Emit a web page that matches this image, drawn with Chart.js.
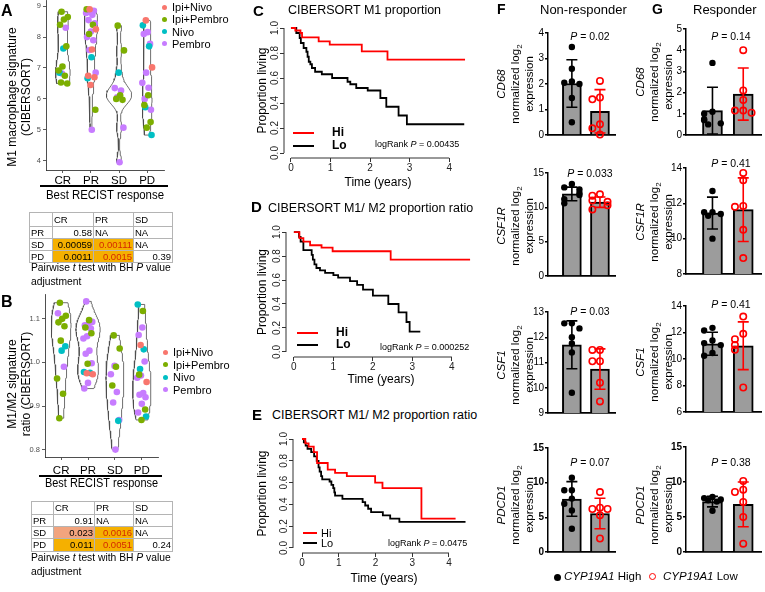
<!DOCTYPE html>
<html>
<head>
<meta charset="utf-8">
<title>Macrophage signature and CYP19A1 figure</title>
<script src="https://cdn.jsdelivr.net/npm/chart.js@4.4.1/dist/chart.umd.min.js"></script>
<style>
  html, body { margin: 0; padding: 0; background: #fff; }
  #fig { position: relative; width: 765px; height: 592px; overflow: hidden;
         font-family: "Liberation Sans", Arial, sans-serif; color: #000; }
  #fig canvas { position: absolute; }
  .t { position: absolute; white-space: nowrap; line-height: 1.15; transform: translateY(-50%); }
  .c { transform: translate(-50%, -50%); }
  .rot { position: absolute; transform: translate(-50%, -50%) rotate(-90deg); text-align: center; white-space: nowrap; }
  .rot div { height: 14px; line-height: 14px; }
  .bold { font-weight: bold; }
  table.pw { position: absolute; border-collapse: collapse; font-size: 9.5px; table-layout: fixed; }
  table.pw td { border: 1px solid #b4b4b4; padding: 0 1px; line-height: 1; white-space: nowrap; overflow: hidden; }
  .num { text-align: right; }
</style>
</head>
<body>
<div id="fig"></div>
<script>
// ---------------- data ----------------
const responses = ['CR', 'PR', 'SD', 'PD'];
const treatments = ['Ipi+Nivo', 'Ipi+Pembro', 'Nivo', 'Pembro'];

// panel A: M1 macrophage signature, one list per response (CR, PR, SD, PD)
const m1IpiNivo   = [[], [8.9, 8.25, 7.6, 6.75, 6.7, 6.45], [], [8.54, 7.02]];
const m1IpiPembro = [[8.82, 8.65, 8.57, 8.4, 7.7, 7.05, 6.92, 6.75, 6.53, 6.5], [8.9, 8.4, 8.1, 5.65],
                     [8.37, 7.57, 6.12, 6.0, 5.97], [6.12, 5.8, 5.25, 5.07]];
const m1Nivo      = [[7.63, 6.85], [7.35, 6.67], [6.85], [8.38, 7.7, 5.73, 4.83]];
const m1Pembro    = [[8.3, 6.82], [8.85, 8.82, 8.78, 8.72, 8.55, 8.45, 8.18, 8.0, 7.9, 7.58, 6.85, 5.0],
                     [6.35, 6.27, 6.05, 5.07, 3.95], [8.16, 8.1, 7.78, 6.85, 6.52, 6.36, 6.0, 5.65]];
const m1Ticks = [4, 5, 6, 7, 8, 9];

// panel B: M1/M2 signature ratio
const ratioIpiNivo   = [[], [0.975, 0.973], [], [1.04, 0.955]];
const ratioIpiPembro = [[1.137, 1.107, 1.1, 1.092, 1.083, 1.05, 0.963, 0.928, 0.872], [1.097, 1.08, 1.067, 0.997],
                        [1.062, 1.032, 0.99, 0.947], [1.118, 0.972, 0.892, 0.868]];
const ratioNivo      = [[1.037, 1.027], [0.978, 0.976], [0.866], [1.133, 1.03, 0.985, 0.876]];
const ratioPembro    = [[1.113, 0.99], [1.14, 1.093, 1.088, 1.085, 1.078, 1.06, 1.055, 1.027, 1.02, 0.998, 0.953, 0.94],
                        [0.992, 0.973, 0.932, 0.908, 0.868, 0.80],
                        [1.08, 1.063, 1.002, 0.97, 0.965, 0.93, 0.926, 0.92, 0.905, 0.885]];
const ratioTicks = [0.8, 0.9, 1.0, 1.1];

// pairwise t test tables
const pwCols = ['CR', 'PR', 'SD'];
const pwRows = ['PR', 'SD', 'PD'];
const pwA = [['0.58', 'NA', 'NA'], ['0.00059', '0.00111', 'NA'], ['0.0011', '0.0015', '0.39']];
const pwB = [['0.91', 'NA', 'NA'], ['0.023', '0.0016', 'NA'], ['0.011', '0.0051', '0.24']];

// Kaplan-Meier curves (time in years, proportion living)
const kmTicksX = [0, 1, 2, 3, 4];
const kmTicksY = [0, 0.2, 0.4, 0.6, 0.8, 1.0];
const cHiTime = [0, 0.11, 0.24, 0.28, 0.70, 0.98, 1.79, 2.44, 4.4];
const cHiSurv = [1, 0.98, 0.96, 0.925, 0.893, 0.867, 0.813, 0.747, 0.747];
const cLoTime = [0, 0.135, 0.22, 0.25, 0.32, 0.39, 0.42, 0.45, 0.49, 0.53, 0.61, 0.78, 1.04, 1.43, 1.5, 1.65, 1.94, 2.26, 2.41, 2.72, 2.93, 4.38];
const cLoSurv = [1, 0.96, 0.92, 0.88, 0.84, 0.81, 0.77, 0.73, 0.71, 0.68, 0.65, 0.63, 0.60, 0.57, 0.55, 0.52, 0.50, 0.44, 0.37, 0.30, 0.23, 0.23];
const dHiTime = [0, 0.14, 0.24, 0.41, 0.70, 0.98, 2.45, 4.46];
const dHiSurv = [1, 0.95, 0.92, 0.89, 0.87, 0.84, 0.77, 0.77];
const dLoTime = [0, 0.13, 0.17, 0.24, 0.45, 0.48, 0.52, 0.57, 0.66, 0.79, 1.0, 1.12, 1.42, 1.6, 1.75, 2.0, 2.39, 2.65, 2.85, 2.93, 3.2];
const dLoSurv = [1, 0.96, 0.92, 0.85, 0.81, 0.77, 0.73, 0.70, 0.68, 0.66, 0.64, 0.62, 0.59, 0.56, 0.52, 0.47, 0.40, 0.33, 0.25, 0.17, 0.17];
const eHiTime = [0, 0.09, 0.18, 0.32, 0.41, 0.7, 0.9, 1.22, 1.99, 2.19, 3.25, 4.18];
const eHiSurv = [1, 0.96, 0.93, 0.88, 0.78, 0.72, 0.69, 0.66, 0.60, 0.55, 0.27, 0.27];
const eLoTime = [0, 0.05, 0.1, 0.15, 0.25, 0.33, 0.4, 0.45, 0.48, 0.52, 0.55, 0.75, 0.8, 0.85, 0.88, 0.9, 1.1, 1.65, 1.72, 1.8, 1.88, 2.2, 2.4, 2.65, 4.45];
const eLoSurv = [1, 0.97, 0.94, 0.91, 0.88, 0.84, 0.80, 0.74, 0.70, 0.66, 0.63, 0.61, 0.58, 0.55, 0.51, 0.48, 0.45, 0.42, 0.39, 0.36, 0.33, 0.30, 0.27, 0.24, 0.24];
const logRankC = '0.00435';
const logRankD = '0.000252';
const logRankE = '0.0475';

// panels F and G: gene expression, CYP19A1 High vs Low
const genes = ['CD68', 'CSF1R', 'CSF1', 'PDCD1'];
const pNonResp = ['0.02', '0.033', '0.03', '0.07'];
const pResp = ['0.14', '0.41', '0.41', '0.38'];
const nrTicks = [[0, 1, 2, 3, 4], [0, 5, 10, 15], [9, 10, 11, 12, 13], [0, 5, 10, 15]];
const rTicks = [[0, 1, 2, 3, 4, 5], [8, 10, 12, 14], [6, 8, 10, 12, 14], [0, 5, 10, 15]];
const nrMean = [[2.02, 0.93], [11.95, 10.75], [11.7, 10.74], [7.65, 5.55]];
const nrSD = [[0.93, 0.85], [1.0, 0.75], [0.95, 0.8], [2.5, 2.2]];
const nrHigh = [[3.45, 2.6, 2.1, 2.05, 2.0, 1.45, 0.5], [13.4, 12.9, 12.6, 12.1, 11.8, 11.2, 10.6],
                [12.55, 12.55, 12.35, 12.0, 11.75, 11.4, 9.8], [10.7, 8.9, 8.9, 7.7, 6.95, 6.0, 3.35]];
const nrLow = [[2.12, 1.47, 1.4, 0.42, 0.26, 0.02], [11.9, 11.7, 11.0, 10.8, 10.3, 9.7],
               [11.5, 11.5, 11.05, 11.05, 10.2, 9.46], [8.65, 6.4, 6.2, 6.2, 5.3, 1.95]];
const rMean = [[1.15, 1.93], [11.45, 11.64], [11.15, 11.0], [7.2, 6.8]];
const rSD = [[1.1, 1.23], [0.9, 1.8], [0.87, 1.8], [0.75, 3.2]];
const rHigh = [[3.4, 1.1, 1.0, 0.75, 0.7, 0.55, 0.5], [12.7, 11.5, 11.5, 11.4, 11.3, 10.0],
               [12.35, 12.15, 11.4, 11.2, 11.05, 10.45, 10.25], [7.85, 7.7, 7.5, 7.4, 7.2, 5.9]];
const rLow = [[4.0, 2.1, 1.65, 1.15, 1.15, 1.05], [13.72, 13.3, 11.85, 11.8, 10.5, 8.9],
              [13.2, 11.9, 11.5, 11.05, 10.7, 7.85], [10.14, 8.9, 8.57, 7.14, 5.0, 1.19]];

// ---------------- styles ----------------
const treatmentColors = ['#F8766D', '#7CAE00', '#00BFC4', '#C77CFF'];
const FONT = '"Liberation Sans", Arial, sans-serif';
Chart.defaults.font.family = FONT;
Chart.defaults.color = '#000';

const fig = document.getElementById('fig');

function put(html, x, y, css, cls) {
  const d = document.createElement('div');
  d.className = cls || 't';
  d.innerHTML = html;
  d.style.left = x + 'px';
  d.style.top = y + 'px';
  if (css) d.style.cssText += css;
  fig.appendChild(d);
  return d;
}

function rule(x, y, w, h, color) {
  const d = document.createElement('div');
  d.style.cssText = `position:absolute;left:${x}px;top:${y}px;width:${w}px;height:${h}px;background:${color}`;
  fig.appendChild(d);
  return d;
}

// area = [left, top, right, bottom] of the plot area on the page
// m = [y axis width, top pad, right pad, x axis height, bottom pad]
function place(area, m, config) {
  const [l, t, r, b] = area;
  const [ml, mt, mr, mb, pb] = m;
  const cv = document.createElement('canvas');
  const w = r - l + ml + mr, h = b - t + mt + mb + pb;
  cv.width = w; cv.height = h;
  cv.style.left = (l - ml) + 'px'; cv.style.top = (t - mt) + 'px';
  cv.style.width = w + 'px'; cv.style.height = h + 'px';
  fig.appendChild(cv);
  const o = config.options;
  o.responsive = false;
  o.animation = false;
  o.devicePixelRatio = 1;
  o.layout = { padding: { left: 0, top: mt, right: mr, bottom: pb } };
  o.scales.x.afterFit = s => { s.height = mb; };
  o.scales.y.afterFit = s => { s.width = ml; };
  o.plugins = Object.assign({ legend: { display: false }, tooltip: { enabled: false } }, o.plugins || {});
  return new Chart(cv, config);
}

const fixedTicks = list => s => { s.ticks = list.map(v => ({ value: v })); };

// ---------------- violins (A, B) ----------------
function quantile(sorted, p) {
  const h = (sorted.length - 1) * p, lo = Math.floor(h);
  const hi = Math.min(lo + 1, sorted.length - 1);
  return sorted[lo] + (h - lo) * (sorted[hi] - sorted[lo]);
}
function bwNrd0(v) {
  const n = v.length, mean = v.reduce((a, b) => a + b, 0) / n;
  const sd = Math.sqrt(v.reduce((a, b) => a + (b - mean) ** 2, 0) / (n - 1));
  const s = [...v].sort((a, b) => a - b);
  let lo = Math.min(sd, (quantile(s, 0.75) - quantile(s, 0.25)) / 1.34);
  if (!lo) lo = sd || 1;
  return 0.9 * lo * Math.pow(n, -0.2);
}
function density(v, bw, y) {
  let s = 0;
  for (const x of v) { const z = (y - x) / bw; s += Math.exp(-0.5 * z * z); }
  return s / (v.length * bw * Math.sqrt(2 * Math.PI));
}
const jitter = k => (((k * 0.6180339887) + 0.37) % 1 - 0.5) * 0.36;

function violinChart(area, m, yMin, yMax, yTicks, byTreatment, fmt, xPad) {
  const datasets = [];
  const groups = responses.map((r, g) => byTreatment.flatMap(arr => arr[g]));
  const shapes = groups.map(v => {
    const bw = bwNrd0(v), lo = Math.min(...v), hi = Math.max(...v);
    const out = [];
    for (let i = 0; i <= 80; i++) {
      const y = lo + (hi - lo) * i / 80;
      out.push({ y, d: density(v, bw, y) });
    }
    return out;
  });
  const dMax = Math.max(...shapes.flat().map(p => p.d));
  shapes.forEach((s, g) => {
    const c = g + 1;
    const right = s.map(p => ({ x: c + p.d / dMax * 0.45, y: p.y }));
    const left = s.slice().reverse().map(p => ({ x: c - p.d / dMax * 0.45, y: p.y }));
    datasets.push({ data: [...right, ...left, right[0]], showLine: true, borderColor: '#4a4a4a',
                    borderWidth: 0.8, pointRadius: 0, fill: false, order: 5 });
  });
  const seen = responses.map(() => 0);
  byTreatment.forEach((arr, t) => {
    const pts = [];
    arr.forEach((vals, g) => vals.forEach(v => { pts.push({ x: g + 1 + jitter(seen[g]++), y: v }); }));
    datasets.push({ label: treatments[t], data: pts, pointRadius: 3.3, pointBackgroundColor: treatmentColors[t],
                    pointBorderWidth: 0, order: 1, clip: false });
  });
  return place(area, m, {
    type: 'scatter',
    data: { datasets },
    options: {
      scales: {
        x: { type: 'linear', min: 0.4, max: 4.6, afterBuildTicks: fixedTicks([1, 2, 3, 4]),
             ticks: { callback: v => responses[v - 1], font: { size: 11.5 }, color: '#000', padding: xPad,
                      maxRotation: 0, autoSkip: false },
             grid: { drawOnChartArea: false, tickLength: 3, color: '#333', lineWidth: 0.8 },
             border: { color: '#222', width: 0.8 },
             title: { display: true, text: 'Best RECIST response', font: { size: 12 }, color: '#000', padding: 0 } },
        y: { min: yMin, max: yMax, afterBuildTicks: fixedTicks(yTicks),
             ticks: { callback: fmt, font: { size: 7.5 }, color: '#4d4d4d', padding: 2 },
             grid: { drawOnChartArea: false, tickLength: 3, color: '#333', lineWidth: 0.8 },
             border: { color: '#222', width: 0.8 } }
      }
    }
  });
}

violinChart([46, 0, 164, 170], [30, 10, 10, 33, 0], 3.7, 9.2, m1Ticks,
            [m1IpiNivo, m1IpiPembro, m1Nivo, m1Pembro], v => String(v), 1);
violinChart([45, 294, 158, 457], [30, 10, 10, 34, 0], 0.783, 1.157, ratioTicks,
            [ratioIpiNivo, ratioIpiPembro, ratioNivo, ratioPembro], v => v.toFixed(1), 3.5);

rule(40, 185, 128, 1.6, '#000');
rule(39, 475, 123, 1.6, '#000');
put('M1 macrophage signature<br>(CIBERSORT)', 19, 97, 'font-size:12px;line-height:14px', 'rot');
put('M1/M2 signature<br>ratio (CIBERSORT)', 19, 384, 'font-size:12px;line-height:14px', 'rot');

function legend(x, y0, step) {
  treatments.forEach((name, i) => {
    const y = y0 + i * step;
    rule(x - 2.5, y - 2.5, 5, 5, treatmentColors[i]).style.borderRadius = '50%';
    put(name, x + 8, y, 'font-size:11px');
  });
}
legend(164, 7, 12.3);
legend(165, 352, 12.5);

function pwTable(x, y, vals, widths, heights) {
  const tb = document.createElement('table');
  tb.className = 'pw';
  tb.style.left = x + 'px'; tb.style.top = y + 'px';
  tb.style.width = widths.reduce((a, b) => a + b, 0) + 'px';
  const cg = document.createElement('colgroup');
  widths.forEach(w => { const c = document.createElement('col'); c.style.width = w + 'px'; cg.appendChild(c); });
  tb.appendChild(cg);
  const head = document.createElement('tr');
  head.style.height = heights[0] + 'px';
  head.innerHTML = '<td></td>' + pwCols.map(c => `<td>${c}</td>`).join('');
  tb.appendChild(head);
  pwRows.forEach((r, i) => {
    const tr = document.createElement('tr');
    tr.style.height = heights[i + 1] + 'px';
    tr.innerHTML = `<td>${r}</td>` + vals[i].map((v, j) => {
      const p = parseFloat(v);
      if (isNaN(p)) return `<td>${v}</td>`;
      let bg = '', col = '#000';
      if (p < 0.02) bg = '#F5B000';
      else if (p < 0.05) bg = '#F2A47E';
      if (bg && j === 1) col = '#D42A00';
      return `<td class="num" style="${bg ? 'background:' + bg + ';' : ''}color:${col}">${v}</td>`;
    }).join('');
    tb.appendChild(tr);
  });
  fig.appendChild(tb);
}
pwTable(29, 212, pwA, [23, 41, 40, 39], [14, 12, 12, 12]);
pwTable(31, 501, pwB, [22, 41, 39, 39], [13, 12, 12, 13]);
const caption = 'Pairwise <i>t</i> test with BH <i>P</i> value';
put(caption, 31, 268, 'font-size:10.3px');
put('adjustment', 31, 282, 'font-size:10.3px');
put(caption, 31, 558, 'font-size:10.3px');
put('adjustment', 31, 572, 'font-size:10.3px');

put('A', 1, 11, 'font-size:16px', 't bold');
put('B', 1, 302, 'font-size:16px', 't bold');

// ---------------- Kaplan-Meier (C, D, E) ----------------
const rAxes = {
  id: 'rAxes',
  afterDraw(chart) {
    const { ctx, chartArea: a, scales: { x, y } } = chart;
    ctx.save();
    ctx.strokeStyle = '#333';
    ctx.lineWidth = 1;
    ctx.beginPath();
    ctx.moveTo(a.left, y.getPixelForValue(y.ticks[0].value));
    ctx.lineTo(a.left, y.getPixelForValue(y.ticks[y.ticks.length - 1].value));
    ctx.moveTo(x.getPixelForValue(x.ticks[0].value), a.bottom);
    ctx.lineTo(x.getPixelForValue(x.ticks[x.ticks.length - 1].value), a.bottom);
    ctx.stroke();
    ctx.restore();
  }
};

function kmChart(area, m, xr, yr, curves) {
  return place(area, m, {
    type: 'line',
    data: {
      datasets: curves.map(c => ({
        data: c.t.map((t, i) => ({ x: t, y: c.s[i] })), stepped: true, borderColor: c.color,
        borderWidth: 1.8, pointRadius: 0, fill: false
      }))
    },
    options: {
      scales: {
        x: { type: 'linear', min: xr[0], max: xr[1], afterBuildTicks: fixedTicks(kmTicksX),
             ticks: { font: { size: 10 }, color: '#222', padding: 0, maxRotation: 0, autoSkip: false },
             grid: { drawOnChartArea: false, tickLength: 4, color: '#333' }, border: { display: false },
             title: { display: true, text: 'Time (years)', font: { size: 12 }, color: '#000', padding: 0 } },
        y: { min: yr[0], max: yr[1], afterBuildTicks: fixedTicks(kmTicksY),
             ticks: { font: { size: 10 }, color: '#222', padding: -2, minRotation: 90, maxRotation: 90,
                      crossAlign: 'center', autoSkip: false, callback: v => v.toFixed(1) },
             grid: { drawOnChartArea: false, tickLength: 4, color: '#333' }, border: { display: false },
             title: { display: true, text: 'Proportion living', font: { size: 12 }, color: '#000', padding: 0 } }
      }
    },
    plugins: [rAxes]
  });
}

kmChart([284, 23, 472, 158], [29, 10, 10, 32, 0], [-0.176, 4.576], [-0.04, 1.04],
        [{ t: cHiTime, s: cHiSurv, color: '#FF0000' }, { t: cLoTime, s: cLoSurv, color: '#000' }]);
kmChart([286, 227, 476, 357], [31, 10, 10, 30, 0], [-0.2, 4.61], [-0.042, 1.042],
        [{ t: dHiTime, s: dHiSurv, color: '#FF0000' }, { t: dLoTime, s: dLoSurv, color: '#000' }]);
kmChart([293, 434, 475, 553], [38, 10, 10, 33, 0], [-0.245, 4.708], [-0.046, 1.046],
        [{ t: eHiTime, s: eHiSurv, color: '#FF0000' }, { t: eLoTime, s: eLoSurv, color: '#000' }]);

put('C', 253, 11, 'font-size:15px', 't bold');
put('D', 251, 207, 'font-size:15px', 't bold');
put('E', 252, 415, 'font-size:15px', 't bold');
put('CIBERSORT M1 proportion', 288, 10, 'font-size:12.5px');
put('CIBERSORT M1/ M2 proportion ratio', 268, 208, 'font-size:12.5px');
put('CIBERSORT M1/ M2 proportion ratio', 272, 415, 'font-size:12.5px');

function kmLegend(x, w, yHi, yLo, tx, css) {
  rule(x, yHi - 1, w, 2, '#FF0000');
  rule(x, yLo - 1, w, 2, '#000');
  put('Hi', tx, yHi, css);
  put('Lo', tx, yLo, css);
}
kmLegend(293, 21, 133, 146, 332, 'font-size:12px;font-weight:bold');
kmLegend(297, 21, 333, 345, 336, 'font-size:12px;font-weight:bold');
kmLegend(303, 14, 533, 543, 321, 'font-size:11px');
put(`logRank <i>P</i> = ${logRankC}`, 375, 144, 'font-size:9px');
put(`logRank <i>P</i> = ${logRankD}`, 380, 347, 'font-size:9px');
put(`logRank <i>P</i> = ${logRankE}`, 388, 543, 'font-size:9px');

// ---------------- bar charts (F, G) ----------------
const errorBars = {
  id: 'errorBars',
  afterDatasetDraw(chart, args, opts) {
    if (args.index !== 0) return;
    const { ctx, scales: { x, y } } = chart;
    opts.mean.forEach((m, i) => {
      const px = x.getPixelForValue(i);
      const top = y.getPixelForValue(m + opts.sd[i]), bot = y.getPixelForValue(m - opts.sd[i]);
      ctx.save();
      ctx.strokeStyle = opts.colors[i];
      ctx.lineWidth = 1.6;
      ctx.beginPath();
      ctx.moveTo(px, top); ctx.lineTo(px, bot);
      ctx.moveTo(px - opts.cap, top); ctx.lineTo(px + opts.cap, top);
      ctx.moveTo(px - opts.cap, bot); ctx.lineTo(px + opts.cap, bot);
      ctx.stroke();
      ctx.restore();
    });
  }
};

function swarm(vals, center, range) {
  const pattern = [0, -0.27, 0.27, -0.14, 0.14];
  const placed = [];
  return vals.map(v => {
    const near = placed.filter(p => Math.abs(p - v) < range * 0.06).length;
    placed.push(v);
    return { x: center + pattern[near % pattern.length], y: v };
  });
}

function barChart(area, xr, ticks, mean, sd, high, low, barW, bold) {
  const range = ticks[ticks.length - 1] - ticks[0];
  return place(area, [24, 10, 4, 0, 10], {
    type: 'bar',
    data: {
      datasets: [
        { type: 'bar', data: [{ x: 0, y: mean[0] }, { x: 1, y: mean[1] }], backgroundColor: '#9c9c9c',
          borderColor: '#000', borderWidth: 2, barThickness: barW, order: 3 },
        { type: 'scatter', data: swarm(high, 0, range), pointRadius: 3.2, pointBackgroundColor: '#000',
          pointBorderWidth: 0, order: 1, clip: false },
        { type: 'scatter', data: swarm(low, 1, range), pointRadius: 3.2, pointBackgroundColor: 'rgba(255,255,255,0)',
          pointBorderColor: '#FF0000', pointBorderWidth: 1.6, order: 1, clip: false }
      ]
    },
    options: {
      plugins: { errorBars: { mean, sd, colors: ['#000', '#FF0000'], cap: 5.5 } },
      scales: {
        x: { type: 'linear', offset: false, min: xr[0], max: xr[1], ticks: { display: false },
             grid: { display: false, offset: false }, border: { color: '#000', width: 1.8 } },
        y: { min: ticks[0], max: ticks[ticks.length - 1], afterBuildTicks: fixedTicks(ticks),
             ticks: { font: { size: 10, weight: bold ? 'bold' : 'normal' }, color: '#000', padding: 1 },
             grid: { drawOnChartArea: false, tickLength: 3, color: '#000', lineWidth: 1.5 },
             border: { color: '#000', width: 1.5 } }
      }
    },
    plugins: [errorBars]
  });
}

const nrRows = [[33, 135], [173, 276], [312, 413], [448, 552]];
const rRows = [[29, 135], [168, 274], [306, 412], [447, 552]];
const nrP = [36, 173, 311, 462];
const rP = [36, 163, 304, 462];
const nrTitleY = [84, 226, 365, 505];
const rTitleY = [82, 222, 362, 505];

genes.forEach((g, i) => {
  barChart([548, nrRows[i][0], 617, nrRows[i][1]], [-0.85, 1.55], nrTicks[i], nrMean[i], nrSD[i],
           nrHigh[i], nrLow[i], 19, i === 3);
  barChart([686, rRows[i][0], 763, rRows[i][1]], [-0.86, 1.59], rTicks[i], rMean[i], rSD[i],
           rHigh[i], rLow[i], 20, i === 3);
  put(`<i>P</i> = ${pNonResp[i]}`, 590, nrP[i], 'font-size:10.5px', 't c');
  put(`<i>P</i> = ${pResp[i]}`, 731, rP[i], 'font-size:10.5px', 't c');
  const title = `<div><i>${g}</i></div><div>normalized log<sub style="font-size:8px;line-height:0">2</sub></div><div>expression</div>`;
  put(title, 515, nrTitleY[i], 'font-size:11.5px', 'rot');
  put(title, 654, rTitleY[i], 'font-size:11.5px', 'rot');
});

put('F', 497, 9, 'font-size:14px', 't bold');
put('G', 652, 9, 'font-size:14px', 't bold');
put('Non-responder', 540, 10, 'font-size:13px');
put('Responder', 693, 10, 'font-size:13px');

// bottom legend
rule(553.5, 573.5, 7, 7, '#000').style.borderRadius = '50%';
put('<i>CYP19A1</i> High', 564, 577, 'font-size:11.5px');
const ring = document.createElement('div');
ring.style.cssText = 'position:absolute;left:649px;top:573px;width:5px;height:5px;border:1.6px solid #FF0000;border-radius:50%';
fig.appendChild(ring);
put('<i>CYP19A1</i> Low', 663, 577, 'font-size:11.5px');
</script>
</body>
</html>
